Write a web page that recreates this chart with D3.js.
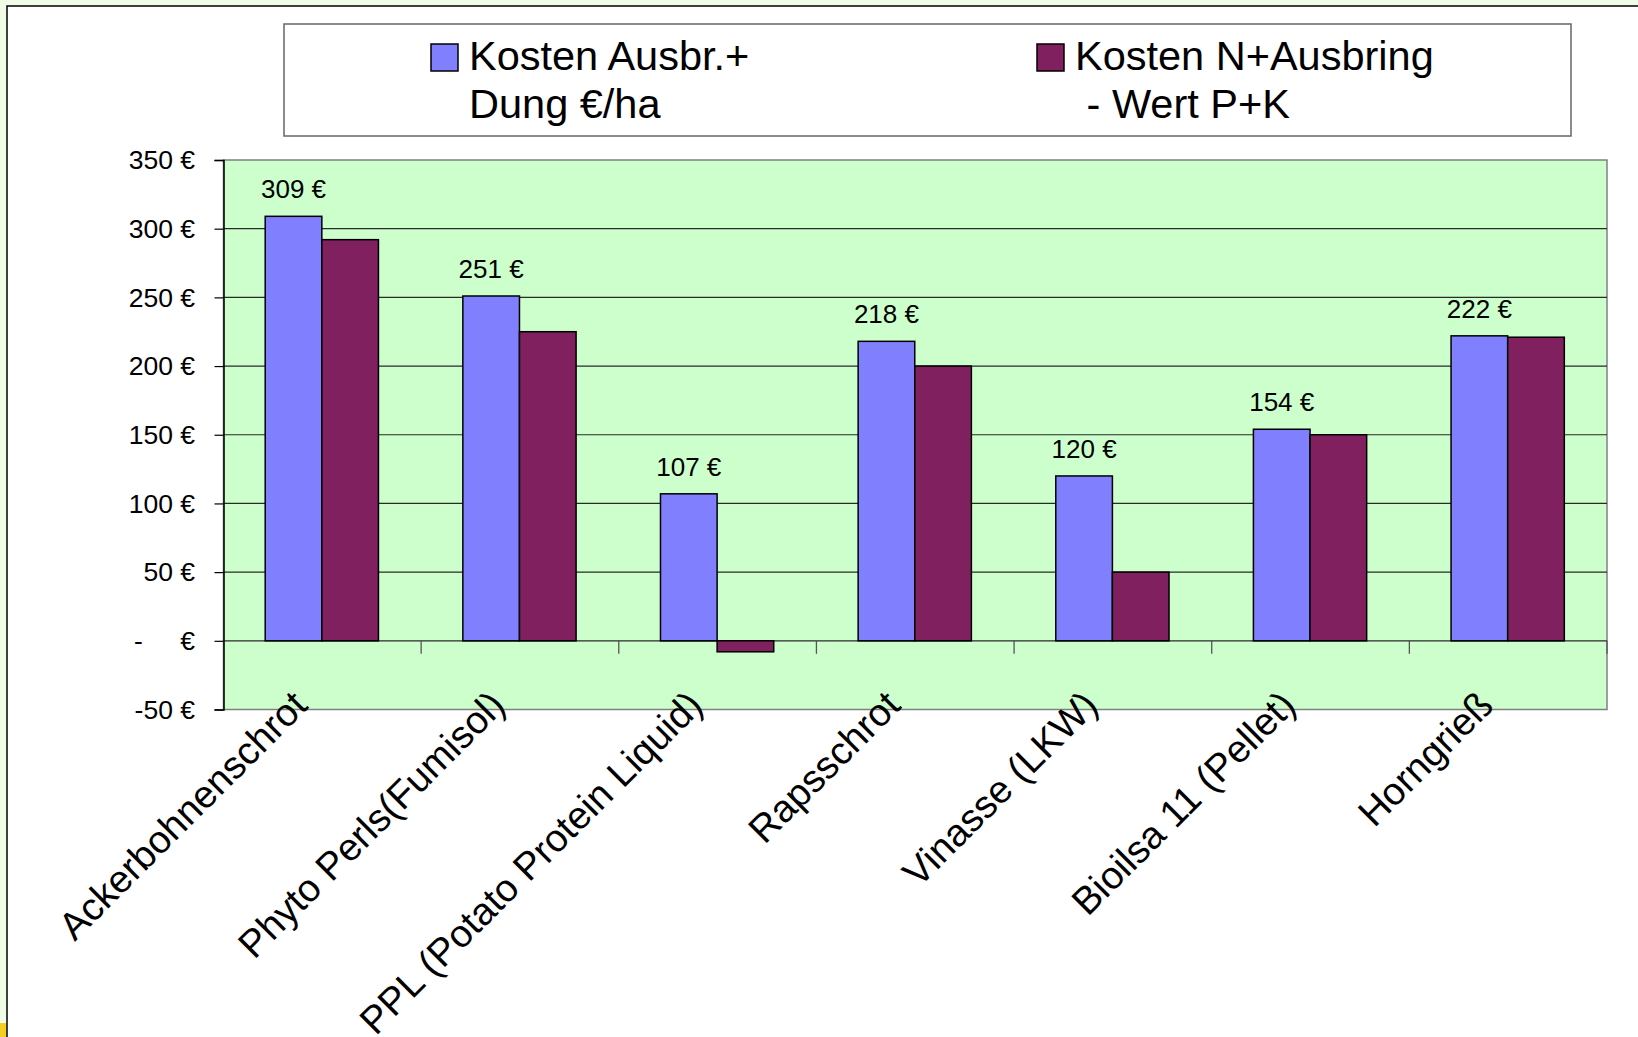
<!DOCTYPE html>
<html><head><meta charset="utf-8">
<script src="https://cdn.jsdelivr.net/npm/d3@7/dist/d3.min.js"></script>
<style>
html,body{margin:0;padding:0;background:#fff;}
svg{display:block;font-family:"Liberation Sans",Arial,sans-serif;}
</style></head>
<body>
<svg id="chart" width="1638" height="1037"></svg>
<script>
const categories = ["Ackerbohnenschrot","Phyto Perls(Fumisol)","PPL (Potato Protein Liquid)","Rapsschrot","Vinasse (LKW)","Bioilsa 11 (Pellet)","Horngrieß"];
const seriesNames = ["Kosten Ausbr.+\nDung €/ha","Kosten N+Ausbring\n - Wert P+K"];
const kostenAusbrDung = [309,251,107,218,120,154,222];
const kostenNminusPK = [292,225,-8,200,50,150,221];
const yTicks = [-50,0,50,100,150,200,250,300,350];
const colors = ["#8080FF","#80205F"];

const svg = d3.select("#chart");
const W = 1638, H = 1037;

// outer frame
svg.append("rect").attr("x",0).attr("y",0).attr("width",W).attr("height",H).attr("fill","#f0fce6");
svg.append("rect").attr("x",7).attr("y",6).attr("width",W).attr("height",H).attr("fill","#fff").attr("stroke","#000").attr("stroke-width",1.5);
svg.append("rect").attr("x",0).attr("y",1023).attr("width",6).attr("height",14).attr("fill","#f5cf20");

const plot = {l:223.5, r:1607, t:160, b:709.5};
const y = d3.scaleLinear().domain([-50,350]).range([plot.b,plot.t]);
const x0 = d3.scaleBand().domain(categories).range([plot.l,plot.r]).padding(0);
const bw = x0.bandwidth();
const x1 = d3.scaleBand().domain([0,1]).range([0.211*bw,0.784*bw]).padding(0);

// plot background
svg.append("rect").attr("x",plot.l).attr("y",plot.t).attr("width",plot.r-plot.l).attr("height",plot.b-plot.t)
  .attr("fill","#CCFFCC").attr("stroke","#808080").attr("stroke-width",1.5);

// gridlines
svg.append("g").selectAll("line").data(yTicks.filter(d=>d>-50 && d<350)).join("line")
  .attr("x1",plot.l).attr("x2",plot.r).attr("y1",d=>y(d)).attr("y2",d=>y(d))
  .attr("stroke","#2a2a2a").attr("stroke-width",1.2);

// y axis
const yAxis = d3.axisLeft(y).tickValues(yTicks).tickSize(9).tickFormat("");
const yg = svg.append("g").attr("transform",`translate(${plot.l},0)`).call(yAxis);
yg.select(".domain").attr("stroke","#000").attr("stroke-width",1.5);
yg.selectAll(".tick line").attr("stroke","#000").attr("stroke-width",1.2);
yTicks.forEach(v=>{
  if(v===0){
    svg.append("text").attr("x",134).attr("y",y(v)).attr("dy","0.35em").attr("font-size",26.5).text("-");
    svg.append("text").attr("x",195).attr("y",y(v)).attr("dy","0.35em").attr("text-anchor","end").attr("font-size",26.5).text("€");
  } else {
    svg.append("text").attr("x",195).attr("y",y(v)).attr("dy","0.35em").attr("text-anchor","end").attr("font-size",26.5).text(v+" €");
  }
});

// category ticks on zero line
const bounds = categories.map(c=>x0(c)+bw);
svg.append("g").selectAll("line").data(bounds).join("line")
  .attr("x1",d=>d).attr("x2",d=>d).attr("y1",y(0)).attr("y2",y(0)+13)
  .attr("stroke","#555").attr("stroke-width",1.3);

// bars
const series = [kostenAusbrDung,kostenNminusPK];
series.forEach((vals,si)=>{
  svg.append("g").selectAll("rect").data(vals).join("rect")
    .attr("x",(d,i)=>x0(categories[i])+x1(si))
    .attr("width",x1.bandwidth())
    .attr("y",d=>y(Math.max(0,d)))
    .attr("height",d=>Math.abs(y(d)-y(0)))
    .attr("fill",colors[si]).attr("stroke","#000").attr("stroke-width",1.5);
});

// data labels
svg.append("g").selectAll("text").data(kostenAusbrDung).join("text")
  .attr("x",(d,i)=>x0(categories[i])+x1(0)+x1.bandwidth()/2)
  .attr("y",d=>y(d)-18)
  .attr("text-anchor","middle").attr("font-size",26)
  .text(d=>d+" €");

// category labels
svg.append("g").selectAll("text").data(categories).join("text")
  .attr("transform",d=>`translate(${x0(d)+bw/2-13},${plot.b-2}) rotate(-45)`)
  .attr("text-anchor","end").attr("font-size",38.5)
  .text(d=>d);

// legend
const lg = svg.append("g");
lg.append("rect").attr("x",284).attr("y",24).attr("width",1287).attr("height",112)
  .attr("fill","#fff").attr("stroke","#666").attr("stroke-width",1.5);
const legPos = [{sx:431,tx:469},{sx:1037,tx:1075}];
seriesNames.forEach((name,i)=>{
  lg.append("rect").attr("x",legPos[i].sx).attr("y",44).attr("width",27).attr("height",27)
    .attr("fill",colors[i]).attr("stroke","#000").attr("stroke-width",1.5);
  name.split("\n").forEach((line,j)=>{
    lg.append("text").attr("x",legPos[i].tx).attr("y",70+j*48).attr("font-size",41.5)
      .attr("xml:space","preserve").style("white-space","pre").text(line);
  });
});
</script>
</body></html>
